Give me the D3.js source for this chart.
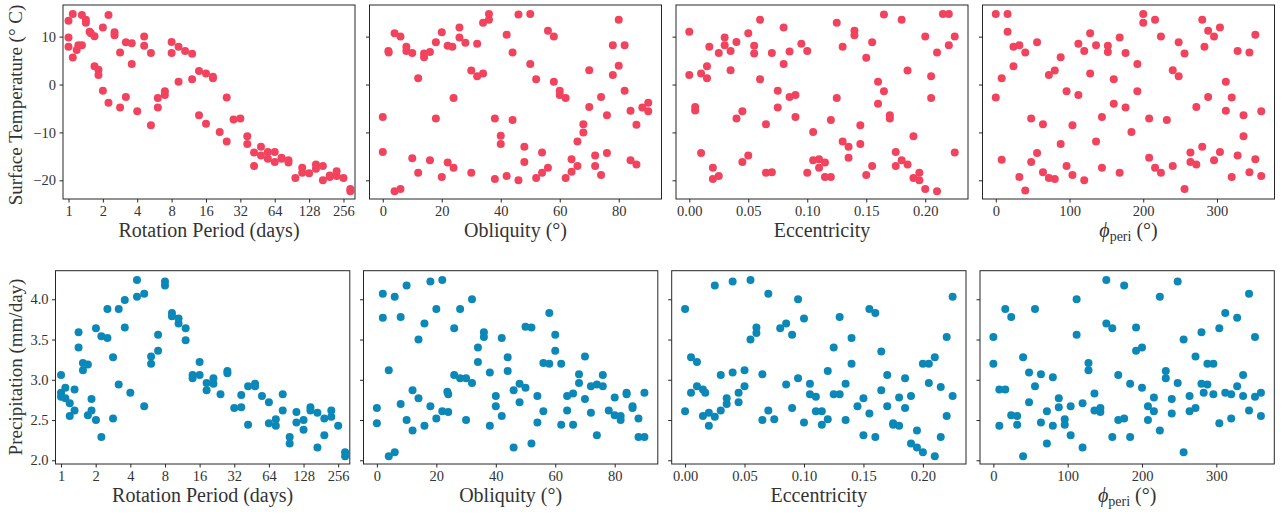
<!DOCTYPE html>
<html>
<head>
<meta charset="utf-8">
<script src="https://cdn.jsdelivr.net/npm/d3@7"></script>
<style>
  body { margin: 0; background: #fff; }
  svg text { font-family: "Liberation Serif", "Times New Roman", serif; fill: #333; }
</style>
</head>
<body>
<svg id="chart" width="1286" height="514"></svg>
<script>
// [x, y] pairs, one list per panel
const rotTemp = [[1,13.3],[1,9.8],[1,7.9],[1.09,14.7],[1.09,5.65],[1.18,7.2],[1.22,8.2],[1.31,8.2],[1.31,14.5],
  [1.42,13.5],[1.42,12.9],[1.53,11.0],[1.57,10.7],[1.69,10.1],[1.69,3.8],[1.83,3.1],[1.83,2.0],[2,11.9],[2,-1.3],
  [2.24,14.5],[2.24,-3.8],[2.53,10.9],[2.53,10.3],[2.83,6.7],[2.83,-4.8],[3.18,8.8],[3.18,-2.6],[3.58,8.6],[3.58,4.3],
  [4,-5.6],[4.6,10.0],[4.6,8.1],[5.27,6.6],[5.27,-8.5],[6.06,-2.8],[6.06,-4.8],[6.98,-1.4],[6.98,-2.2],[8,8.9],[8,6.6],
  [9.2,7.9],[9.2,0.6],[10.5,7.0],[12.1,6.4],[12.1,1.1],[13.9,2.8],[13.9,-6.4],[16,2.3],[16,-8.2],[18.4,1.6],[18.4,1.3],
  [21.1,-9.9],[24.3,-2.7],[24.3,-11.9],[27.9,-7.3],[32,-7.1],[36.8,-10.8],[36.8,-12.4],[42.2,-14.2],[42.2,-17.0],
  [48.5,-13.0],[48.5,-14.8],[55.7,-14.1],[55.7,-15.5],[64,-14.1],[64,-16.2],[73.5,-15.3],[73.5,-15.5],[84.4,-15.8],
  [84.4,-16.3],[97,-19.5],[111.4,-17.4],[111.4,-18.4],[128,-18.5],[147,-16.7],[147,-17.6],[169,-17.0],[169,-20.0],
  [194,-19.0],[194,-19.3],[223,-18.1],[223,-19.1],[256,-19.5],[294,-21.8],[294,-22.3]];

const oblTemp = [[0,-6.8],[0,-14.1],[1.9,7.0],[2,6.7],[4,10.7],[4,-22.3],[6,10.0],[6,-21.8],[8,7.9],[8,7.0],
  [10,6.6],[10,-15.4],[14,6.5],[14,5.7],[12,1.3],[12,-18.4],[16,6.8],[16,-15.8],[18,8.8],[18,-7.1],[20,10.9],[20,-19.3],
  [22,8.1],[22,-16.3],[23.6,7.9],[24,-2.8],[24,-17.4],[26,11.9],[26,9.8],[28,8.7],[30,2.9],[30,-18.4],[32,1.7],[32,8.5],
  [34,12.9],[34,2.3],[36,14.7],[36,13.5],[38,-7.1],[38,-19.7],[40,-10.7],[40,-12.4],[42,10.4],[42,-19.1],[44,6.7],
  [44,-7.4],[46,14.6],[46,-20.0],[48,-13.0],[48,-16.2],[50,14.7],[50,4.3],[52,1.1],[52,-19.5],[54,-14.2],[54,-18.4],
  [56,11.2],[56,-17.4],[58,10.0],[58,0.6],[60,-1.3],[60,-2.2],[62,-2.8],[62,-19.5],[64,-15.6],[64,-18.2],[66,-17.0],
  [66,-11.9],[68,-8.3],[68,-10.0],[70,3.0],[70,-4.7],[72,-14.8],[72,-17.0],[74,-2.6],[74,-18.9],[76,-6.4],[76,-14.3],
  [78,2.0],[78,8.2],[80,13.5],[80,3.9],[82,8.2],[82,-1.3],[84,-5.5],[84,-15.8],[86,-8.4],[86,-16.7],[88,-4.8],
  [90,-3.8],[90,-5.6]];

const eccTemp = [[0,11.0],[0,2.0],[0.005,-4.7],[0.005,-5.4],[0.01,2.3],[0.01,-14.3],[0.015,3.8],[0.015,1.3],
  [0.017,7.9],[0.02,-17.4],[0.02,-19.7],[0.025,6.6],[0.025,-19.1],[0.03,9.8],[0.03,8.2],[0.035,7.0],[0.035,3.0],
  [0.04,8.9],[0.04,-7.1],[0.045,-5.6],[0.045,-16.2],[0.05,10.7],[0.05,-14.8],[0.055,8.1],[0.055,6.5],[0.06,13.5],
  [0.06,1.1],[0.065,-8.3],[0.065,-18.4],[0.07,6.6],[0.07,-18.3],[0.075,-1.3],[0.075,-4.8],[0.08,11.9],[0.08,4.3],
  [0.085,6.9],[0.085,-2.6],[0.09,-2.2],[0.09,-6.8],[0.095,8.5],[0.1,7.0],[0.1,-18.4],[0.105,-9.9],[0.105,-15.8],
  [0.11,-15.6],[0.11,-17.4],[0.115,-16.3],[0.115,-19.3],[0.12,-7.4],[0.12,-19.3],[0.125,12.9],[0.125,-2.8],
  [0.13,7.9],[0.13,-11.9],[0.135,-13.0],[0.135,-15.3],[0.14,11.2],[0.14,10.3],[0.145,-8.5],[0.145,-12.4],
  [0.15,5.6],[0.15,-18.9],[0.155,8.8],[0.155,-17.0],[0.16,0.6],[0.16,-4.0],[0.165,14.6],[0.165,-1.4],[0.17,-6.4],
  [0.17,-7.1],[0.175,-14.1],[0.175,-17.0],[0.18,13.5],[0.18,-15.8],[0.185,2.9],[0.185,-16.7],[0.19,-10.8],
  [0.19,-19.5],[0.195,-18.4],[0.195,-20.0],[0.2,10.0],[0.2,-21.8],[0.205,1.7],[0.205,-2.8],[0.21,6.7],[0.21,-22.3],
  [0.215,14.7],[0.22,14.7],[0.22,8.2],[0.225,10.0],[0.225,-14.2]];

const phiTemp = [[0,14.7],[0,-2.7],[8,1.3],[8,-15.7],[16,14.7],[16,11.0],[24,7.9],[24,3.8],[32,8.2],[32,-19.3],
  [40,6.7],[40,-22.1],[48,-7.1],[48,-16.2],[56,8.8],[56,-14.3],[64,-8.3],[64,-18.3],[72,2.0],[72,-19.5],[80,2.9],
  [80,-19.7],[88,5.7],[88,-12.4],[96,-1.4],[96,-17.0],[104,-8.5],[104,-18.9],[112,8.5],[112,-2.2],[120,7.0],
  [120,-20.0],[128,10.7],[128,2.3],[136,8.2],[136,-11.9],[144,-17.4],[144,-6.8],[152,8.1],[152,6.8],[160,1.1],
  [160,-4.0],[168,9.8],[168,-18.4],[176,6.6],[176,-4.8],[184,-9.9],[192,4.3],[192,-1.4],[200,14.7],[200,12.9],
  [208,-7.1],[208,-15.3],[216,13.5],[216,-17.4],[224,10.0],[224,-18.4],[232,-7.4],[240,-17.0],[240,3.0],[248,8.8],
  [248,1.7],[256,6.5],[256,-21.8],[264,-14.2],[264,-16.2],[272,-4.7],[272,-16.7],[280,13.5],[280,-13.0],[283,7.9],
  [288,11.2],[288,-2.6],[296,10.0],[296,-15.8],[304,11.9],[304,-14.1],[312,0.6],[312,-5.5],[320,-2.7],[320,-19.3],
  [328,7.0],[328,-14.8],[336,-6.4],[336,-10.8],[344,6.7],[344,-18.3],[352,10.4],[352,-15.6],[360,-5.6],[360,-19.1]];

const rotPrecip = [[1,3.06],[1,2.84],[1,2.79],[1.09,2.90],[1.09,2.77],[1.19,2.71],[1.19,2.55],[1.31,2.88],[1.31,2.62],
  [1.42,3.59],[1.42,3.40],[1.55,3.21],[1.55,3.12],[1.71,3.19],[1.71,2.56],[1.84,2.76],[1.84,2.62],[2.01,3.64],[2.01,2.50],
  [2.24,3.54],[2.24,2.29],[2.53,3.88],[2.53,3.52],[2.83,3.28],[2.83,2.52],[3.17,3.88],[3.17,2.94],[3.58,3.99],[3.58,3.65],
  [4,2.84],[4.57,4.24],[4.57,4.03],[5.28,4.07],[5.28,2.67],[6.06,3.29],[6.06,3.20],[6.97,3.56],[6.97,3.36],[8,4.22],
  [8,4.17],[9.2,3.83],[9.2,3.79],[10.5,3.76],[10.5,3.70],[12.1,3.64],[12.1,3.49],[13.9,3.06],[13.9,3.02],[16,3.22],
  [16,3.06],[18.4,2.96],[18.4,2.87],[21.1,3.02],[21.1,2.95],[24.3,2.82],[27.9,3.11],[27.9,3.08],[32,2.65],[36.8,2.81],
  [36.8,2.66],[42.2,2.92],[42.2,2.44],[48.5,2.95],[48.5,2.92],[55.7,2.80],[64,2.72],[64,2.46],[73.5,2.51],[73.5,2.43],
  [84.4,2.82],[84.4,2.62],[97,2.29],[97,2.21],[111,2.60],[111,2.47],[128,2.50],[128,2.38],[147,2.66],[147,2.62],
  [169,2.59],[169,2.16],[194,2.52],[194,2.31],[223,2.62],[223,2.54],[256,2.43],[294,2.10],[294,2.05]];

const oblPrecip = [[0,2.65],[0,2.46],[2,4.07],[2,3.77],[4,3.12],[4,2.05],[6,4.03],[6,2.10],[8,3.78],[8,2.70],
  [10,4.17],[10,2.50],[12,2.87],[12,2.37],[14,3.50],[14,2.77],[16,3.70],[16,2.43],[18,4.22],[18,2.67],[20,3.88],
  [20,2.52],[22,4.24],[22,2.61],[23.7,2.85],[24,2.82],[24,2.60],[26,3.64],[26,3.06],[28,3.88],[28,3.02],[30,3.02],
  [30,2.50],[32,4.00],[32,2.96],[34,3.40],[34,3.22],[36,3.59],[36,3.53],[38,3.09],[38,2.43],[40,2.80],[40,2.67],
  [42,3.52],[42,2.55],[44,3.28],[44,3.11],[46,2.87],[46,2.16],[48,2.95],[48,2.72],[50,3.66],[50,2.90],[52,3.65],
  [52,2.21],[54,2.80],[54,2.47],[56,3.21],[56,2.61],[58,3.83],[58,3.20],[60,3.56],[60,3.36],[62,3.20],[62,2.44],
  [64,2.80],[64,2.62],[66,2.83],[66,2.44],[68,3.07],[68,2.96],[70,3.29],[70,2.76],[72,2.92],[72,2.59],[74,2.94],
  [74,2.31],[76,3.06],[76,2.92],[78,2.62],[80,2.78],[80,2.56],[82,2.55],[82,2.50],[84,2.84],[84,2.82],[86,2.67],
  [86,2.65],[88,2.52],[88,2.29],[90,2.84],[90,2.29]];

const eccPrecip = [[0,3.88],[0,2.61],[0.005,3.28],[0.005,2.84],[0.01,3.22],[0.01,2.92],[0.015,2.88],[0.015,2.55],
  [0.017,2.84],[0.02,2.59],[0.02,2.43],[0.025,4.17],[0.025,2.54],[0.03,3.06],[0.03,2.62],[0.035,2.77],[0.035,2.70],
  [0.04,4.22],[0.04,3.09],[0.045,2.84],[0.045,2.72],[0.05,3.12],[0.05,2.92],[0.055,4.24],[0.055,3.50],[0.06,3.65],
  [0.06,3.58],[0.065,3.07],[0.065,2.50],[0.07,4.07],[0.07,2.62],[0.075,2.51],[0.08,3.64],[0.085,3.70],[0.085,2.94],
  [0.09,3.56],[0.09,2.65],[0.095,4.00],[0.095,3.02],[0.1,3.76],[0.1,2.47],[0.105,2.95],[0.105,2.82],[0.11,2.79],
  [0.11,2.61],[0.115,2.61],[0.115,2.44],[0.12,3.11],[0.12,2.51],[0.125,3.40],[0.125,2.82],[0.13,3.78],[0.13,2.82],
  [0.135,2.95],[0.135,2.50],[0.14,3.52],[0.14,3.20],[0.145,2.67],[0.15,2.77],[0.15,2.31],[0.155,3.88],[0.155,2.58],
  [0.16,3.83],[0.16,2.29],[0.165,3.35],[0.165,2.87],[0.17,3.06],[0.17,2.67],[0.175,2.46],[0.175,2.44],[0.18,2.78],
  [0.18,2.43],[0.185,3.02],[0.185,2.65],[0.19,2.80],[0.19,2.21],[0.195,2.37],[0.195,2.16],[0.2,3.20],[0.2,2.10],
  [0.205,3.20],[0.205,2.96],[0.21,3.28],[0.21,2.05],[0.215,2.91],[0.215,2.29],[0.22,3.53],[0.22,2.55],[0.225,4.03],
  [0.225,2.80]];

const phiPrecip = [[0,3.53],[0,3.20],[8,2.88],[8,2.43],[16,3.88],[16,2.88],[24,3.78],[24,2.56],[32,2.55],[32,2.44],
  [40,3.28],[40,2.05],[48,3.09],[48,2.72],[56,3.88],[56,2.92],[64,3.07],[64,2.47],[72,2.61],[72,2.21],[80,3.03],
  [80,2.43],[88,2.77],[88,2.66],[96,2.51],[96,2.44],[104,2.67],[104,2.31],[112,4.00],[112,3.56],[120,2.71],[120,2.16],
  [128,3.21],[128,3.12],[136,2.83],[136,2.62],[144,2.65],[144,2.60],[152,4.24],[152,3.70],[160,3.64],[160,2.29],
  [168,3.06],[168,2.50],[176,4.17],[176,2.52],[184,2.95],[184,2.29],[192,3.65],[192,3.36],[200,3.40],[200,2.90],
  [208,2.67],[208,2.50],[216,2.78],[216,2.61],[224,4.03],[224,2.37],[232,3.11],[232,3.02],[240,2.76],[240,2.58],
  [248,4.22],[248,2.96],[256,3.50],[256,2.10],[264,2.80],[264,2.61],[272,3.29],[272,2.65],[280,3.59],[280,2.95],
  [283,2.84],[288,3.20],[288,2.94],[296,3.20],[296,2.82],[304,3.64],[304,2.46],[312,3.83],[312,2.84],[320,2.82],
  [320,2.52],[328,3.77],[328,2.92],[336,3.06],[336,2.80],[344,4.07],[344,2.62],[352,3.53],[352,2.79],[360,2.84],
  [360,2.55]];

// tick values
const rotTicks = [1, 2, 4, 8, 16, 32, 64, 128, 256];
const oblTicks = [0, 20, 40, 60, 80];
const eccTicks = [0, 0.05, 0.1, 0.15, 0.2];
const phiTicks = [0, 100, 200, 300];
const tempTicks = [-20, -10, 0, 10];
const precipTicks = [2.0, 2.5, 3.0, 3.5, 4.0];

const red = "#f2435e";
const blue = "#0b88b8";
const spine = "#262626";

const svg = d3.select("#chart");

// x axes shared by both rows (domains include matplotlib-like margins)
const xSpecs = [
  { scale: () => d3.scaleLog().base(2).domain([0.895, 323]), ticks: rotTicks, fmt: d3.format("d"), label: "Rotation Period (days)" },
  { scale: () => d3.scaleLinear().domain([-4.5, 94.5]), ticks: oblTicks, fmt: d3.format("d"), label: "Obliquity (°)" },
  { scale: () => d3.scaleLinear().domain([-0.01125, 0.23625]), ticks: eccTicks, fmt: d3.format(".2f"), label: "Eccentricity" },
  { scale: () => d3.scaleLinear().domain([-18, 378]), ticks: phiTicks, fmt: d3.format("d"), label: "phi" }
];

const rows = [
  { top: 5, height: 194, lefts: [63, 369.5, 676, 982.5], width: 292,
    yDomain: [-23.9, 16.6], yTicks: tempTicks, yFmt: d3.format("d"), color: red,
    ylabel: "Surface Temperature (° C)", labelY: 105, sets: [rotTemp, oblTemp, eccTemp, phiTemp] },
  { top: 270.7, height: 193.3, lefts: [55.5, 363.5, 671.7, 980], width: 294.3,
    yDomain: [1.954, 4.355], yTicks: precipTicks, yFmt: d3.format(".1f"), color: blue,
    ylabel: "Precipitation (mm/day)", labelY: 367, sets: [rotPrecip, oblPrecip, eccPrecip, phiPrecip] }
];

rows.forEach(row => {
  const y = d3.scaleLinear().domain(row.yDomain).range([row.height, 0]);

  row.sets.forEach((pts, i) => {
    const spec = xSpecs[i];
    const x = spec.scale().range([0, row.width]);
    const g = svg.append("g").attr("transform", `translate(${row.lefts[i]},${row.top})`);

    // points
    g.selectAll("circle")
      .data(pts)
      .enter()
      .append("circle")
      .attr("cx", d => x(d[0]))
      .attr("cy", d => y(d[1]))
      .attr("r", 4)
      .attr("fill", row.color);

    // frame
    g.append("rect")
      .attr("width", row.width)
      .attr("height", row.height)
      .attr("fill", "none")
      .attr("stroke", spine)
      .attr("stroke-width", 1);

    // x axis
    const xAxis = g.append("g")
      .attr("transform", `translate(0,${row.height})`)
      .call(d3.axisBottom(x).tickValues(spec.ticks).tickFormat(spec.fmt).tickSize(3.5).tickPadding(3.5).tickSizeOuter(0));
    xAxis.select(".domain").remove();

    // y axis (labels only on the first column)
    const yAxis = g.append("g")
      .call(d3.axisLeft(y).tickValues(row.yTicks).tickFormat(i === 0 ? row.yFmt : "").tickSize(3.5).tickPadding(3.5).tickSizeOuter(0));
    yAxis.select(".domain").remove();

    [xAxis, yAxis].forEach(a => {
      a.selectAll("line").attr("stroke", spine);
      a.selectAll("text").style("font-size", "14.5px").attr("fill", "#333");
    });

    // x label
    const lab = g.append("text")
      .attr("x", row.width / 2)
      .attr("y", row.height + 38)
      .attr("text-anchor", "middle")
      .style("font-size", "20px");
    if (spec.label === "phi") {
      lab.append("tspan").style("font-style", "italic").text("ϕ");
      lab.append("tspan").style("font-size", "14px").attr("dy", 4).text("peri");
      lab.append("tspan").attr("dy", -4).text(" (°)");
    } else {
      lab.text(spec.label);
    }
  });

  // y label
  svg.append("text")
    .attr("transform", `translate(22,${row.labelY}) rotate(-90)`)
    .attr("text-anchor", "middle")
    .style("font-size", "19px")
    .text(row.ylabel);
});
</script>
</body>
</html>
